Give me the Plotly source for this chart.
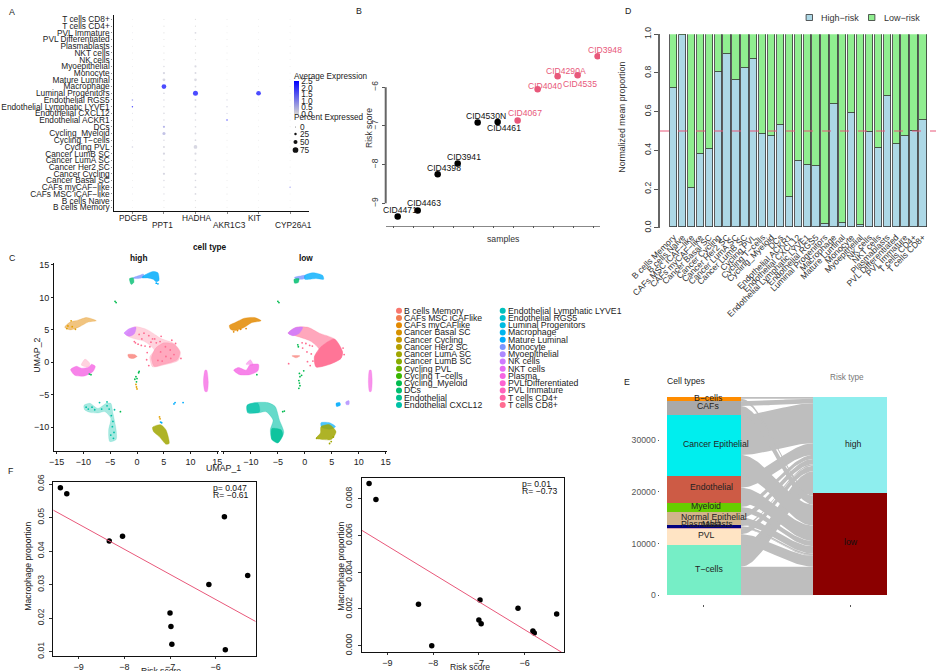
import numpy as np
import plotly.graph_objects as go

W, H = 936, 671
FONT = "Liberation Sans"
PINK = "#E8587A"

# ---------- Panel A ----------
cat_a = ["B cells Memory","B cells Naive","CAFs MSC iCAF−like","CAFs myCAF−like","Cancer Basal SC","Cancer Cycling",
         "Cancer Her2 SC","Cancer LumA SC","Cancer LumB SC","Cycling PVL","Cycling T−cells","Cycling_Myeloid","DCs",
         "Endothelial ACKR1","Endothelial CXCL12","Endothelial Lymphatic LYVE1","Endothelial RGS5","Luminal Progenitors",
         "Macrophage","Mature Luminal","Monocyte","Myoepithelial","NK cells","NKT cells","Plasmablasts",
         "PVL Differentiated","PVL Immature","T cells CD4+","T cells CD8+"]
genes = ["PDGFB","PPT1","HADHA","AKR1C3","KIT","CYP26A1"]
pct_pdgfb  = [1,1,2,2,1,1,1,1,1,12,1,1,1,3,3,10,12,1,1,1,1,2,1,1,1,2,2,1,1]
pct_ppt1   = [4,4,8,8,10,22,10,12,22,18,10,35,22,10,12,10,10,14,60,30,22,10,6,6,6,4,6,4,4]
pct_hadha  = [8,8,14,16,12,22,12,14,20,45,14,15,12,12,14,14,18,65,14,28,18,20,8,10,8,8,16,6,8]
pct_akr1c3 = [2,2,3,3,2,2,2,2,2,2,2,2,2,10,8,10,6,3,2,2,2,2,2,2,2,2,2,2,2]
pct_kit    = [1,1,1,1,1,1,1,1,1,1,1,1,1,1,1,1,1,60,1,2,1,2,1,1,1,1,1,1,1]
pct_cyp    = [1,1,1,5,1,1,1,1,1,1,1,1,1,1,1,1,1,1,1,1,1,1,1,1,1,1,1,1,1]
exp_pdgfb  = [0,0,0.1,0.1,0,0,0,0,0,0.2,0,0,0,0.1,0.1,2.5,1.0,0,0,0,0,0.1,0,0,0,0.1,0.1,0,0]
exp_ppt1   = [0,0,0.1,0.1,0.1,0.15,0.1,0.1,0.15,0.1,0.1,0.5,0.7,0.1,0.1,0.1,0.1,0.1,2.5,0.15,0.15,0.1,0,0,0,0,0,0,0]
exp_hadha  = [0,0,0.1,0.1,0.1,0.1,0.1,0.1,0.1,0.15,0.1,0.1,0.1,0.1,0.1,0.1,0.1,2.5,0.1,0.1,0.1,0.1,0,0,0,0,0.1,0,0]
exp_akr1c3 = [0,0,0,0,0,0,0,0,0,0,0,0,0,2.5,0.2,0.2,0.2,0.1,0,0,0,0,0,0,0,0,0,0,0]
exp_kit    = [0,0,0,0,0,0,0,0,0,0,0,0,0,0,0,0,0,2.5,0,0.1,0,0.1,0,0,0,0,0,0,0]
exp_cyp    = [0,0,0,1.5,0,0,0,0,0,0,0,0,0,0,0,0,0,0,0,0,0,0,0,0,0,0,0,0,0]
pct_all = [pct_pdgfb,pct_ppt1,pct_hadha,pct_akr1c3,pct_kit,pct_cyp]
exp_all = [exp_pdgfb,exp_ppt1,exp_hadha,exp_akr1c3,exp_kit,exp_cyp]
exp_ticks = [0,0.5,1,1.5,2,2.5]
pct_legend = [0,25,50,75]

# ---------- Panel B ----------
b_samples = ["CID4471","CID4463","CID4398","CID3941","CID4530N","CID4461","CID4067","CID4040","CID4290A","CID4535","CID3948"]
b_scores  = [-9.34,-9.19,-8.25,-7.97,-6.91,-6.90,-6.86,-6.05,-5.72,-5.69,-5.20]
b_rank    = [1,2,3,4,5,6,7,8,9,10,11]
b_group   = ["low"]*6 + ["high"]*5
b_dx = [2,6,6,6,8,6,7,7,8,2,7]
b_dy = [-6,-8,-6,-6,-6,6,-7,-3,-5,9,-6]
b_ticks = [0.8,1.8,2.8,3.8,4.8,5.8,6.8,7.8,8.8,9.8,10.8]

# ---------- Panel D ----------
cat_d = ["B cells Memory","B cells Naive","CAFs MSC iCAF−like","CAFs myCAF−like","Cancer Basal SC","Cancer Cycling",
         "Cancer Her2 SC","Cancer LumA SC","Cancer LumB SC","Cycling PVL","Cycling T−cells","Cycling_Myeloid","DCs",
         "Endothelial ACKR1","Endothelial CXCL12","Endothelial Lymphatic LYVE1","Endothelial RGS5","Luminal Progenitors",
         "Macrophage","Mature Luminal","Monocyte","Myoepithelial","NK cells","NKT cells","Plasmablasts",
         "PVL Differentiated","PVL Immature","T cells CD4+","T cells CD8+"]
d_high = [0.72,0.995,0.205,0.38,0.405,0.805,0.895,0.762,0.822,0.87,0.485,0.475,0.528,0.158,0.343,0.325,0.315,
          0.02,0.64,0.025,0.59,0.012,0.495,0.413,0.677,0.43,0.475,0.5,0.555]
d_low  = [0.28,0.005,0.795,0.62,0.595,0.195,0.105,0.238,0.178,0.13,0.515,0.525,0.472,0.842,0.657,0.675,0.685,
          0.98,0.36,0.975,0.41,0.988,0.505,0.587,0.323,0.57,0.525,0.5,0.445]

# ---------- Panel C: cluster outlines read from the UMAP ----------
hi_peri   = [(-0.8,13.0),(0.5,13.4),(1.2,13.6),(1.2,13.1),(0,12.9)]
hi_sky    = [(1,13.2),(2,13.7),(3,14.0),(3.9,13.8),(4.1,12.6),(3.6,12.4),(3.0,12.8),(2,13.0),(1,13.0)]
hi_green  = [(-1.4,12.9),(-0.7,13.0),(-0.6,12.3),(-1.1,12.0)]
hi_orange = [(-13.5,5.4),(-12.5,6.2),(-11,6.5),(-9.4,6.9),(-7.6,6.4),(-9.1,6.2),(-10.7,5.5),(-12.5,5.0)]
hi_pink   = [(-0.5,5.5),(1,5.3),(2,5),(3.5,4.2),(4.4,3.7),(6.9,2.9),(8.1,1.6),(7.7,0.3),(5,-0.4),(2.9,-0.7),(2.4,0.5),(2.4,0.9),(3.2,1.9),(1.4,3.2),(-0.8,3.7),(-2,4.2)]
hi_dense  = [(3.5,2.2),(5,3),(6.9,2.8),(8,1.6),(7.5,0.4),(5,-0.3),(3.2,-0.6),(2.7,0.7)]
hi_lilac  = [(-2.4,4.5),(-1.4,5.2),(-0.2,5.4),(-0.5,4.4),(-1.4,4.0)]
hi_salmon = [(-1.7,1.2),(-0.5,1.2),(0,0.9),(-0.7,0.6),(-1.5,0.7)]
hi_loop   = [(-12.4,-1.1),(-11.3,-0.6),(-10.4,-0.9),(-9,-0.7),(-8.5,-0.3),(-7.8,-0.6),(-8.2,-1.4),(-9.8,-2.1),(-11.6,-2)]
hi_pale   = [(-10.4,-0.4),(-9.7,0.5),(-8.8,-0.2),(-9.1,-0.7),(-10,-0.6)]
hi_vert   = [(12.7,-1.2),(13,-1.2),(13.3,-3),(13.1,-4.5),(12.7,-4.5),(12.4,-3)]
hi_teal   = [(-9.9,-6.6),(-8.8,-6.3),(-7.3,-7.1),(-5.7,-6.3),(-4.9,-6.3),(-4.5,-7.8),(-3.9,-10.4),(-3.9,-11.9),(-5.1,-12.2),(-5.3,-10.4),(-4.9,-8.6),(-6,-7.6),(-7.3,-7.8),(-8.8,-7.7),(-9.8,-7.3)]
hi_olive  = [(2.9,-10),(4.4,-9.6),(5.4,-10.4),(6,-12.5),(5.4,-12.6),(4.1,-11.4),(3.1,-10.7)]
hi_cells_green  = [(-0.2,-2.2),(0,-2.5),(-0.4,-2.6),(0.3,-1.6),(0.4,-1.4),(-0.1,-3),(-4.1,9.4),(-3.9,9.2),(-3.1,-7.6),(-8.6,-1.9),(-8.9,-1.8)]
hi_cells_orange = [(-0.2,-3.4),(-0.1,-3.8),(0,-4.1),(4.2,-8.4),(4.3,-8.7),(-13.1,5.2),(-12.9,5.6),(-12.1,5.5),(-11.5,5.1),(-12.3,6.4)]
hi_cells_pink   = [(0.2,2.8),(-0.3,3),(0.8,2.6),(1.5,2.5),(2.6,3.1),(3.6,3.0),(1.9,1.5),(2.2,-0.5),(1.8,0.4),(0.9,3.6),(2.9,3.6),(4.5,4),(6.5,3.4),(7.2,2.9),(8.2,0.6),(-0.5,3.2),(2.4,2.4),(0.4,4.3),(1.3,4.5),(2.2,4.1),(3.3,3.6),(4.3,3.2),(5.3,2.4),(6.2,1.9),(6.9,1.2),(4.4,1.6),(5.4,0.9),(3.9,0.3),(6.3,0.6),(4.7,0.2)]
hi_cells_blue   = [(4.4,-9.2),(4.6,-9.3),(6.9,-6.4),(7.1,-6.2),(8.6,-6.2),(3.6,12.2),(3.9,12.1)]
hi_cells_teal   = [(-9.5,-6.9),(-9.1,-7.2),(-8.4,-6.9),(-7.9,-7.3),(-6.6,-7.2),(-5.6,-6.7),(-5.2,-7.2),(-4.8,-8.2),(-4.5,-9.1),(-4.6,-9.9),(-4.3,-10.8),(-4.9,-11.2),(-4.4,-11.7),(-5.6,-6.1),(-7.0,-6.2),(-4.2,-7.3)]
lo_peri   = [(-1.9,13.1),(-0.8,13.3),(0,13.4),(0,12.9),(-1.6,12.8)]
lo_sky    = [(0,13.4),(1.5,13.8),(3.3,13.4),(3.5,12.8),(2.1,12.9),(0,12.8)]
lo_green  = [(-2,12.8),(-1.1,12.9),(-1.2,12.3),(-1.9,12.2)]
lo_orange = [(-14,5.7),(-13,6.1),(-11.2,6.8),(-9.3,6.9),(-8.1,6.4),(-9.9,6.1),(-11.2,5.4),(-13,4.9),(-13.8,5.1)]
lo_pink   = [(-1.6,5.4),(0.6,5.4),(2.7,4.5),(5.5,3.6),(7,1.6),(6.7,0.6),(4.6,-0.3),(2.1,-0.7),(1.8,0.9),(2.7,1.9),(1.2,3.2),(-1,3.9),(-3.1,4.5)]
lo_dense  = [(3,2.4),(5.5,3.6),(7,1.6),(6.7,0.6),(4.6,-0.3),(2.1,-0.7),(1.8,0.9)]
lo_lilac  = [(-3.1,4.5),(-1.9,5.3),(-0.4,5.4),(-1,4.5),(-2.2,4.1)]
lo_salmon = [(-2.4,1),(-0.9,1),(-1.6,0.7)]
lo_loop   = [(-13.2,-1.2),(-12.3,-0.8),(-10.9,-1.2),(-10.2,-0.4),(-8.6,-0.3),(-8.7,-1.3),(-10.2,-1.9),(-12.1,-1.9)]
lo_pale   = [(-10.9,-0.3),(-10.1,0.4),(-9.6,-0.4)]
lo_vert   = [(12,-1.2),(12.3,-1.2),(12.5,-3),(12.3,-4.5),(12,-4.5),(11.8,-3)]
lo_teal   = [(-10.7,-6.6),(-9.3,-6.2),(-6.9,-6.2),(-5.5,-6.8),(-4.7,-8.9),(-3.9,-10.8),(-5,-12.4),(-6.1,-11.9),(-6.4,-10.4),(-5.9,-8.9),(-7.2,-7.6),(-8.7,-7.8),(-10.6,-7.6)]
lo_teal_a = [(-6.1,-10.2),(-4.4,-10.4),(-4.1,-11.2),(-5,-12.4),(-6.1,-11.9)]
lo_teal_b = [(-10.7,-6.6),(-8.7,-6.3),(-8.4,-7.6),(-10.6,-7.8)]
lo_olive  = [(3,-9.9),(4.6,-9.6),(5.8,-10.7),(4.9,-11.9),(3.6,-11.9),(2.1,-11.7),(2.9,-10.9)]
lo_top    = [(3,-9.3),(4.6,-9.3),(5.7,-9.9),(4.6,-10.3),(3.1,-10)]
lo_blob   = [(5.8,-6.3),(6.5,-6.2),(6.6,-6.6),(5.9,-6.8)]
lo_blob2  = [(7.6,-6.1),(8.2,-5.9),(8.2,-6.5),(7.7,-6.5)]
lo_cells_green  = [(-1,-1.7),(-0.9,-2.2),(-1.1,-2.8),(-1,-3.2),(-0.9,-3.6),(-1.1,-4),(-0.6,-2),(-0.2,-1.3),(-5,9.4),(-4.8,9.2),(-4.1,-7.6),(-3.8,-7.5),(-8.9,-1.9),(-1.3,2.7),(-1.2,2.4)]
lo_cells_pink   = [(0.2,2.9),(-0.5,3.0),(0.9,2.6),(1.4,2.5),(0.5,0.1),(1.5,0.2),(1.2,1.3),(-3,-0.2),(-0.4,2.2),(7.3,1.2),(7.1,2.2),(1,-0.5),(0.4,1.6)]
lo_cells_olive  = [(2.2,-11.7),(4.9,-12.2),(4.6,-12.5),(5.3,-11.5)]
lo_cells_orange = [(-13.2,4.7),(-12.5,4.9),(-11.9,5.1),(-10.9,5.2)]

c_legend_a = ["B cells Memory","CAFs MSC iCAFlike","CAFs myCAFlike","Cancer Basal SC","Cancer Cycling","Cancer Her2 SC",
              "Cancer LumA SC","Cancer LumB SC","Cycling PVL","Cycling T−cells","Cycling_Myeloid","DCs","Endothelial","Endothelial CXCL12"]
c_legend_b = ["Endothelial Lymphatic LYVE1","Endothelial RGS5","Luminal Progenitors","Macrophage","Mature Luminal","Monocyte",
              "Myoepithelial","NK cells","NKT cells","Plasma","PVLfDifferentiated","PVL Immature","T cells CD4+","T cells CD8+"]
c_cols_a = ["#F8766D","#F17D50","#E38900","#D69100","#C69900","#B49F00","#A0A600","#88AC00","#69B100","#39B600","#00BB4E","#00BE70","#00C08E","#00C1A7"]
c_cols_b = ["#00C0BC","#00BFD0","#00BBE0","#00B5EE","#00ACFC","#7C96FF","#AC88FF","#CF78FF","#E76BF3","#F564E3","#FD61D1","#FF62BC","#FF65A7","#FF6C90"]

# ---------- Panel E ----------
e_types = ["T−cells","PVL","Plasmablasts","Mast","Normal Epithelial","Myeloid","Endothelial","Cancer Epithelial","CAFs","B−cells"]
e_high  = [4185,1095,0,260,1030,770,2250,7730,900,320]
e_low   = [5540,2060,130,320,1420,1030,2960,4055,1740,515]
e_cols  = ["#76EEC6","#FFE4C4","#D2A0B0","#000080","#D2B48C","#66CD00","#CD5B45","#00EEEE","#A9A9A9","#FF8C00"]
e_text_dx = [5,3,3,8,10,2,8,12,4,5]
e_text_up = [1,2,4,2,2,2,2,2,2,1]

# ---------- Panel F ----------
f1_x = [-9.40,-9.26,-8.33,-8.04,-7.0,-6.98,-6.96,-6.15,-5.81,-5.79,-5.30]
f1_y = [.0589,.0571,.0430,.0444,.0215,.0175,.0122,.0300,.0502,.0106,.0327]
f1_line_x = [-9.555,-5.125]
f1_line_y = [.0522,.0190]
f2_x = [-9.40,-9.25,-8.32,-8.03,-7.0,-6.95,-6.975,-6.145,-5.82,-5.79,-5.30]
f2_y = [.00882,.00795,.00225,0,.0014,.0012,.00249,.00203,.0008,.00069,.00172]
f2_line_x = [-9.561,-5.19]
f2_line_y = [.00628,-.00036]

# ---------- helpers ----------
def hx(x): return x / W
def vy(y): return 1 - y / H
def dom_x(a, b): return [a / W, b / W]
def dom_y(top, bottom): return [1 - bottom / H, 1 - top / H]

fig = go.Figure()
annotations, shapes = [], []

def text(s, x, y, size=9, color="#222", bold=False, anchor="center", angle=0):
    annotations.append(dict(text=f"<b>{s}</b>" if bold else s, x=hx(x), y=vy(y), xref="paper", yref="paper",
                            showarrow=False, xanchor=anchor, yanchor="middle", textangle=angle,
                            font=dict(size=size, color=color, family=FONT), borderpad=0, borderwidth=0))

def dot(x, y, r, color):
    shapes.append(dict(type="circle", xref="paper", yref="paper", x0=hx(x-r), x1=hx(x+r), y0=vy(y+r), y1=vy(y-r),
                       fillcolor=color, line=dict(width=0), layer="above"))

def dia(v):
    return 0.8 + v * 0.065

base_axis = dict(showgrid=False, zeroline=False, tickfont=dict(size=9, family=FONT, color="#222"))
layout_axes = {}

def axis(name, **kw):
    d = dict(base_axis)
    d.update(kw)
    layout_axes[name] = d

# ---------- Panel A ----------
axis("xaxis", domain=dom_x(113.5, 309), range=[-0.6, 5.6], anchor="y", showline=True, linecolor="#111", linewidth=1.2,
     tickmode="array", tickvals=list(range(6)), ticktext=[""]*6, ticks="outside", ticklen=2, tickcolor="#888", tickwidth=0.7)
axis("yaxis", domain=dom_y(15, 211), range=[-0.55, 28.66], anchor="x", showline=True, linecolor="#111", linewidth=1.2,
     tickmode="array", tickvals=list(range(29)), ticktext=cat_a, ticks="outside", ticklen=1, tickcolor="#888", tickwidth=0.6,
     tickfont=dict(size=8.3, family=FONT, color="#222"))
for g, (gene, p, e) in enumerate(zip(genes, pct_all, exp_all)):
    fig.add_trace(go.Scatter(
        x=[g]*len(p), y=list(range(len(p))), mode="markers", xaxis="x", yaxis="y", showlegend=False, hoverinfo="skip",
        marker=dict(size=[dia(v) for v in p], color=e, cmin=0, cmax=2.5,
                    colorscale=[[0, "#D3D3D3"], [1, "#0000FF"]], line=dict(width=0),
                    showscale=(g == 0),
                    colorbar=dict(x=hx(294), xanchor="left", y=vy(81), yanchor="top", lenmode="pixels", len=33,
                                  thicknessmode="pixels", thickness=5, outlinewidth=0, ticks="", xpad=0, ypad=0,
                                  tickvals=exp_ticks, ticktext=[f"{v:.1f}" for v in exp_ticks],
                                  tickfont=dict(size=8.3, family=FONT, color="#222")))))
for gene, x, y in zip(genes, [133.7,162.7,197,229.3,255,293.3], [217.7,225,217.7,225,217.7,225]):
    text(gene, x, y, 8.3)
text("Average Expression", 294, 76, 8.2, anchor="left")
text("Percent Expressed", 294, 118, 8.2, anchor="left")
for v, y in zip(pct_legend, [127, 134, 142, 150]):
    dot(295.5, y, dia(v)/2, "#111")
    text(str(v), 300, y, 8.3, anchor="left")

# ---------- Panel B ----------
axis("xaxis2", domain=dom_x(385.7, 600), range=[0.4, 11.12], anchor="y2", showline=True, linecolor="#888", linewidth=0.5,
     tickmode="array", tickvals=b_ticks, ticktext=[""]*11, ticks="outside", ticklen=2, tickcolor="#555", tickwidth=0.8)
axis("yaxis2", domain=dom_y(40, 225.7), range=[-9.58, -4.78], anchor="x2", showline=False,
     tickmode="array", tickvals=[-6,-7,-8,-9], ticktext=["−6","−7","−8","−9"], tickangle=-90, ticks="outside", ticklen=3,
     tickcolor="#555", tickwidth=1, tickfont=dict(size=8.5, family=FONT, color="#333"))
shapes.append(dict(type="line", xref="paper", yref="y2", x0=hx(385.7), x1=hx(385.7), y0=-6, y1=-9, line=dict(color="#666", width=2)))
fig.add_trace(go.Scatter(x=b_rank, y=b_scores, mode="markers", xaxis="x2", yaxis="y2", showlegend=False, hoverinfo="skip",
                         marker=dict(size=6.5, color=["#000" if g == "low" else PINK for g in b_group])))
for r, s, n, g, dx, dy in zip(b_rank, b_scores, b_samples, b_group, b_dx, b_dy):
    annotations.append(dict(text=n, x=r, y=s, xref="x2", yref="y2", showarrow=False, xshift=dx, yshift=-dy,
                            font=dict(size=8.6, family=FONT, color="#111" if g == "low" else PINK)))
text("Risk score", 369, 128, 8.6, "#333", angle=-90)
text("samples", 503.7, 239, 8.7, "#333")

# ---------- Panel D ----------
pos_d = list(range(29))
axis("xaxis3", domain=dom_x(660, 936), range=[-1.54, 29.47], anchor="y3", showline=False,
     tickmode="array", tickvals=pos_d, ticktext=cat_d, tickangle=-45, ticks="", ticklabelstandoff=2,
     tickfont=dict(size=8.6, family=FONT, color="#333"))
axis("yaxis3", domain=dom_y(34.3, 227.7), range=[0, 1], anchor="x3", showline=True, linecolor="#666", linewidth=2,
     tickmode="array", tickvals=[0,.2,.4,.6,.8,1], ticktext=["0.0","0.2","0.4","0.6","0.8","1.0"], tickangle=-90,
     ticks="outside", ticklen=4, tickcolor="#555", tickwidth=1, tickfont=dict(size=8.6, family=FONT, color="#333"))
for vals, col, nm in [(d_high, "#ADD8E6", "High−risk"), (d_low, "#90EE90", "Low−risk")]:
    fig.add_trace(go.Bar(x=pos_d, y=vals, name=nm, xaxis="x3", yaxis="y3", width=0.82, showlegend=False, hoverinfo="skip",
                         marker=dict(color=col, line=dict(color="#333", width=0.8))))
shapes.append(dict(type="line", xref="paper", yref="y3", x0=hx(660), x1=hx(936), y0=.5, y1=.5, layer="above",
                   line=dict(color=PINK, width=1, dash="dash")))
text("Normalized mean proportion", 621.7, 117, 8.8, "#333", angle=-90)
for x, col, nm in [(809.3, "#ADD8E6", "High−risk"), (871.7, "#90EE90", "Low−risk")]:
    shapes.append(dict(type="rect", xref="paper", yref="paper", x0=hx(x-3.2), x1=hx(x+3.2), y0=vy(20.5), y1=vy(14.5),
                       fillcolor=col, line=dict(color="#333", width=0.8)))
    text(nm, x + 12, 17.5, 9, "#333", anchor="left")

# ---------- Panel C ----------
axis("xaxis4", domain=dom_x(54, 218.7), range=[-15.5, 15.25], anchor="y4", showline=True, linecolor="#111", linewidth=1,
     tickmode="array", tickvals=[-15,-10,-5,0,5,10,15], ticktext=["−15","−10","−5","0","5","10","15"], ticks="outside", ticklen=2, tickcolor="#222")
axis("yaxis4", domain=dom_y(263, 451.3), range=[-13.7, 15.3], anchor="x4", showline=True, linecolor="#111", linewidth=1,
     tickmode="array", tickvals=[-10,-5,0,5,10,15], ticktext=["−10","−5","0","5","10","15"], ticks="outside", ticklen=2, tickcolor="#222")
axis("xaxis5", domain=dom_x(221.3, 386.7), range=[-15.5, 15.2], anchor="y5", showline=True, linecolor="#111", linewidth=1,
     tickmode="array", tickvals=[-15,-10,-5,0,5,10,15], ticktext=["","−10","−5","0","5","10","15"], ticks="outside", ticklen=2, tickcolor="#222")
axis("yaxis5", domain=dom_y(263, 451.3), range=[-13.7, 15.3], anchor="x5", showline=False, showticklabels=False, ticks="")

def blob(pts, color, alpha, xa, ya):
    xs = [p[0] for p in pts] + [pts[0][0]]
    ys = [p[1] for p in pts] + [pts[0][1]]
    r, g, b = int(color[1:3],16), int(color[3:5],16), int(color[5:7],16)
    fig.add_trace(go.Scatter(x=xs, y=ys, mode="lines", fill="toself", fillcolor=f"rgba({r},{g},{b},{alpha})",
                             line=dict(width=0.8, color=f"rgba({r},{g},{b},{alpha*0.5})", shape="spline", smoothing=0.7),
                             xaxis=xa, yaxis=ya, showlegend=False, hoverinfo="skip"))

def cells(pts, color, xa, ya):
    fig.add_trace(go.Scatter(x=[p[0] for p in pts], y=[p[1] for p in pts], mode="markers",
                             marker=dict(size=1.8, color=color, line=dict(width=0)),
                             xaxis=xa, yaxis=ya, showlegend=False, hoverinfo="skip"))

for pts, col, a in [(hi_orange,"#E38900",.5),(hi_peri,"#7C96FF",.8),(hi_sky,"#00ACFC",.85),(hi_green,"#00BE70",.8),
                    (hi_pink,"#FF6C90",.3),(hi_dense,"#FF6C90",.4),(hi_lilac,"#CF78FF",.8),(hi_salmon,"#F8766D",.75),
                    (hi_loop,"#F564E3",.8),(hi_pale,"#FF8FB0",.4),(hi_vert,"#F564E3",.75),(hi_teal,"#00C1A7",.35),(hi_olive,"#A0A600",.85)]:
    blob(pts, col, a, "x4", "y4")
cells(hi_cells_green, "#00BB4E", "x4", "y4"); cells(hi_cells_orange, "#E3A000", "x4", "y4")
cells(hi_cells_pink, "#FF6C90", "x4", "y4"); cells(hi_cells_blue, "#00ACFC", "x4", "y4")
cells(hi_cells_teal, "#00C1A7", "x4", "y4")
for pts, col, a in [(lo_orange,"#E38900",.85),(lo_peri,"#7C96FF",.8),(lo_sky,"#00ACFC",.8),(lo_green,"#00BE70",.85),
                    (lo_pink,"#FF6C90",.6),(lo_dense,"#FF6C90",.85),(lo_lilac,"#CF78FF",.85),(lo_salmon,"#F8766D",.7),
                    (lo_loop,"#F564E3",.8),(lo_pale,"#F564E3",.5),(lo_vert,"#F564E3",.7),(lo_teal,"#00C1A7",.6),
                    (lo_teal_a,"#00C096",.85),(lo_teal_b,"#00C1A7",.7),(lo_top,"#00ACFC",.7),(lo_olive,"#A0A600",.85),
                    (lo_blob,"#00ACFC",.9),(lo_blob2,"#AC88FF",.8)]:
    blob(pts, col, a, "x5", "y5")
cells(lo_cells_green, "#00BB4E", "x5", "y5"); cells(lo_cells_pink, "#FF6C90", "x5", "y5")
cells(lo_cells_olive, "#A0A600", "x5", "y5"); cells(lo_cells_orange, "#E38900", "x5", "y5")
text("cell type", 210, 246.7, 8.3, "#111", bold=True)
text("high", 139, 257.7, 8.3, "#111", bold=True)
text("low", 305.7, 257.7, 8.3, "#111", bold=True)
text("UMAP_2", 36.7, 355, 8.8, "#222", angle=-90)
text("UMAP_1", 223, 467.7, 8.8, "#222")
for names, cols, xd in [(c_legend_a, c_cols_a, 399), (c_legend_b, c_cols_b, 502.7)]:
    for i, (n, c) in enumerate(zip(names, cols)):
        y = 310.7 + i * 7.25
        dot(xd, y, 3, c)
        text(n, xd + 5, y, 8.7, "#222", anchor="left")

# ---------- Panel E ----------
axis("xaxis6", domain=dom_x(660, 900), range=[-0.301, 1.342], anchor="free", position=vy(604), showline=False,
     tickmode="array", tickvals=[0,1], ticktext=["",""], ticks="outside", ticklen=2, tickcolor="#555", tickwidth=0.8)
axis("yaxis6", domain=dom_y(397, 595.3), range=[0, 38315], anchor="x6", showline=False,
     tickmode="array", tickvals=[0,10000,20000,30000], ticktext=["0","10000","20000","30000"], ticks="outside", ticklen=1.5,
     tickcolor="#555", tickwidth=0.8, tickfont=dict(size=8.7, family=FONT, color="#555"))
totals = [a + b for a, b in zip(e_high, e_low)]
base_left = np.concatenate([[0], np.cumsum(totals)])
low_total = sum(e_low)
r_low = np.concatenate([[0], np.cumsum(e_low)])
r_high = low_total + np.concatenate([[0], np.cumsum(e_high)])
half = 0.2535
t = np.linspace(0, 1, 40)
s = t * t * (3 - 2 * t)
xc = half + (1 - 2 * half) * t
xpath = list(xc) + list(xc[::-1])
for i in range(len(e_types)):
    llo = base_left[i]
    lmid = llo + e_low[i]
    ltop = lmid + e_high[i]
    for (a0, a1, b0, b1) in [(llo, lmid, r_low[i], r_low[i+1]), (lmid, ltop, r_high[i], r_high[i+1])]:
        if a1 <= a0:
            continue
        lower = a0 + (b0 - a0) * s
        upper = a1 + (b1 - a1) * s
        fig.add_trace(go.Scatter(x=xpath, y=list(lower) + list(upper[::-1]), mode="lines", fill="toself",
                                 fillcolor="#BEBEBE", line=dict(width=0), xaxis="x6", yaxis="y6",
                                 showlegend=False, hoverinfo="skip"))
for nm, a, b, c in zip(e_types, e_high, e_low, e_cols):
    fig.add_trace(go.Bar(x=[0], y=[a + b], width=0.507, xaxis="x6", yaxis="y6", showlegend=False, hoverinfo="skip",
                         marker=dict(color=c, line=dict(width=0)), name=nm))
fig.add_trace(go.Bar(x=[1], y=[low_total], width=0.507, xaxis="x6", yaxis="y6", showlegend=False, hoverinfo="skip",
                     marker=dict(color="#8B0000", line=dict(width=0)), name="low"))
fig.add_trace(go.Bar(x=[1], y=[sum(e_high)], width=0.507, xaxis="x6", yaxis="y6", showlegend=False, hoverinfo="skip",
                     marker=dict(color="#8EEEEE", line=dict(width=0)), name="high"))
for i, (nm, dx, up) in enumerate(zip(e_types, e_text_dx, e_text_up)):
    annotations.append(dict(text=nm, x=0, y=base_left[i] + totals[i] / 2, xref="x6", yref="y6", showarrow=False,
                            xshift=dx, yshift=up, font=dict(size=8.7, family=FONT, color="#222")))
annotations.append(dict(text="low", x=1, y=low_total/2, xref="x6", yref="y6", showarrow=False, xshift=1, yshift=2,
                        font=dict(size=8.7, family=FONT, color="#111")))
annotations.append(dict(text="high", x=1, y=low_total + sum(e_high)/2, xref="x6", yref="y6", showarrow=False, xshift=3, yshift=1,
                        font=dict(size=8.7, family=FONT, color="#222")))
text("Cell types", 686, 381, 8.6, "#222")
text("Risk type", 847, 378, 8.2, "#777")

# ---------- Panel F ----------
def frame(xn, yn, left, right, top, bottom, xr, yr, yticks, ylabels):
    a = yn.replace("yaxis", "y")
    b = xn.replace("xaxis", "x")
    axis(xn, domain=dom_x(left, right), range=xr, anchor=a, showline=True, mirror=True, linecolor="#111", linewidth=1,
         tickmode="array", tickvals=[-9,-8,-7,-6], ticktext=["−9","−8","−7","−6"], ticks="outside", ticklen=2, tickcolor="#333",
         ticklabelstandoff=0)
    axis(yn, domain=dom_y(top, bottom), range=yr, anchor=b, showline=True, mirror=True, linecolor="#111", linewidth=1,
         tickmode="array", tickvals=yticks, ticktext=ylabels, tickangle=-90, ticks="outside", ticklen=3, tickcolor="#333",
         ticklabelstandoff=2, tickfont=dict(size=8.6, family=FONT, color="#333"))

frame("xaxis7", "yaxis7", 53.3, 255.7, 482, 655.7, [-9.555,-5.125], [.0088,.0606], [.01,.02,.03,.04,.05,.06],
      ["0.01","0.02","0.03","0.04","0.05","0.06"])
frame("xaxis8", "yaxis8", 361.7, 564.3, 477.7, 652.3, [-9.561,-5.133], [-.00036,.00914], [0,.002,.004,.006,.008],
      ["0.000","0.002","0.004","0.006","0.008"])
for xs, ys, lx, ly, xa, ya in [(f1_x, f1_y, f1_line_x, f1_line_y, "x7", "y7"), (f2_x, f2_y, f2_line_x, f2_line_y, "x8", "y8")]:
    fig.add_trace(go.Scatter(x=xs, y=ys, mode="markers", marker=dict(size=5.5, color="#000"), xaxis=xa, yaxis=ya,
                             showlegend=False, hoverinfo="skip"))
    fig.add_trace(go.Scatter(x=lx, y=ly, mode="lines", line=dict(color=PINK, width=1), xaxis=xa, yaxis=ya,
                             showlegend=False, hoverinfo="skip"))
text("Macrophage proportion", 28, 566.7, 8.6, "#222", angle=-90)
text("Macrophage proportion", 340.7, 566, 8.6, "#222", angle=-90)
text("Risk score", 160.7, 671, 8.6, "#222")
text("Risk score", 469.7, 667.3, 8.6, "#222")
text("p= 0.047", 212.7, 487.7, 8.6, "#111", anchor="left")
text("R= −0.61", 212.7, 495, 8.6, "#111", anchor="left")
text("p= 0.01", 522, 483.7, 8.6, "#111", anchor="left")
text("R= −0.73", 522, 491, 8.6, "#111", anchor="left")

for s_, x, y in [("A",11.7,11.7),("B",358.7,11),("C",12,258),("D",627.7,11.3),("E",627,381.7),("F",11,470.7)]:
    text(s_, x, y, 8.8, "#222")

fig.update_layout(width=W, height=H, margin=dict(l=0, r=0, t=0, b=0, pad=0, autoexpand=False), paper_bgcolor="white", plot_bgcolor="white",
                  barmode="stack", bargap=0, showlegend=False, annotations=annotations, shapes=shapes,
                  font=dict(family=FONT, size=9, color="#222"), **layout_axes)
fig.write_html("out.html", config=dict(displayModeBar=False),
               post_script="document.body.style.margin='0';document.body.style.overflow='hidden';")
